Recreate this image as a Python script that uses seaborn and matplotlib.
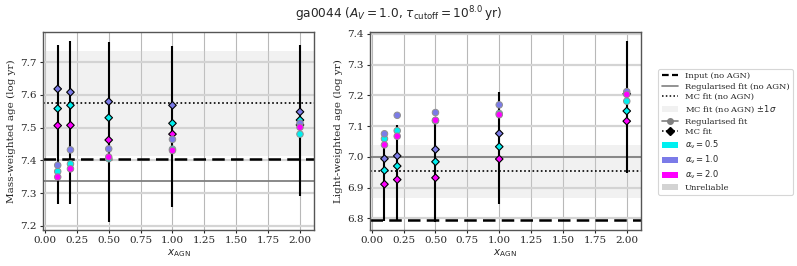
import numpy as np
import pandas as pd
import matplotlib
matplotlib.use("Agg")
import matplotlib.pyplot as plt
import seaborn as sns
from matplotlib.lines import Line2D
from matplotlib.patches import Patch

# ---------------- data ----------------
x_agn = [0.1, 0.2, 0.5, 1.0, 2.0]
alpha_nu = [0.5, 1.0, 2.0]
alpha_labels = [r"$\alpha_\nu = 0.5$", r"$\alpha_\nu = 1.0$", r"$\alpha_\nu = 2.0$"]

# Mass-weighted age (log yr)
mw_input = 7.403
mw_reg_noagn = 7.338
mw_mc_noagn = 7.574
mw_mc_noagn_sigma = 0.161
mw_reg_a05 = [7.366, 7.389, 7.405, 7.434, 7.480]
mw_reg_a10 = [7.385, 7.432, 7.435, 7.464, 7.513]
mw_reg_a20 = [7.349, 7.374, 7.410, 7.430, 7.501]
mw_mc_a05 = [7.558, 7.568, 7.530, 7.513, 7.523]
mw_mc_a10 = [7.618, 7.608, 7.579, 7.568, 7.548]
mw_mc_a20 = [7.506, 7.507, 7.462, 7.480, 7.508]
mw_err_lo = [7.268, 7.268, 7.213, 7.258, 7.292]
mw_err_hi = [7.752, 7.765, 7.760, 7.750, 7.752]

# Light-weighted age (log yr)
lw_input = 6.796
lw_reg_noagn = 6.999
lw_mc_noagn = 6.953
lw_mc_noagn_sigma = 0.087
lw_reg_a05 = [7.059, 7.085, 7.117, 7.141, 7.181]
lw_reg_a10 = [7.075, 7.135, 7.144, 7.169, 7.212]
lw_reg_a20 = [7.039, 7.067, 7.119, 7.137, 7.203]
lw_mc_a05 = [6.956, 6.970, 6.984, 7.033, 7.149]
lw_mc_a10 = [6.994, 7.003, 7.024, 7.076, 7.205]
lw_mc_a20 = [6.911, 6.926, 6.932, 6.993, 7.116]
lw_err_lo = [6.790, 6.792, 6.789, 6.847, 6.949]
lw_err_hi = [7.060, 7.102, 7.115, 7.211, 7.378]

colors = {0.5: "#00f0f0", 1.0: "#7b7be8", 2.0: "#ff00ff"}

# ---------------- style ----------------
sns.set_style("white")
plt.rcParams["font.family"] = ["DejaVu Serif"]
plt.rcParams["mathtext.fontset"] = "dejavusans"

fig = plt.figure(figsize=(7.97, 2.66), dpi=100)
ax1 = fig.add_axes([0.054, 0.135, 0.340, 0.745])
ax2 = fig.add_axes([0.464, 0.135, 0.340, 0.745])


def make_df(vals):
    rows = []
    for a, v in zip(alpha_nu, vals):
        for xx, yy in zip(x_agn, v):
            rows.append({"x": xx, "y": yy, "alpha": a})
    return pd.DataFrame(rows)


def panel(ax, inp, regn, mcn, sig, reg, mc, elo, ehi, ylim, yticks, ylabel):
    ax.set_xlim(-0.015, 2.11)
    ax.set_ylim(*ylim)
    ax.set_xticks(np.arange(0, 2.01, 0.25))
    ax.set_xticklabels([f"{t:.2f}" for t in np.arange(0, 2.01, 0.25)])
    ax.set_yticks(yticks)
    ax.set_yticklabels([f"{t:.1f}" for t in yticks])
    ax.xaxis.grid(True, color="#b8b8b8", lw=0.8, zorder=0)
    ax.yaxis.grid(True, color="#d4d4d4", lw=1.6, zorder=0)
    ax.set_axisbelow(True)
    ax.axhspan(mcn - sig, mcn + sig, color="#d3d3d3", alpha=0.3, lw=0, zorder=1)
    ax.axhline(inp, color="black", ls=(0, (5, 2.5)), lw=1.8, zorder=2)
    ax.axhline(regn, color="grey", ls="-", lw=1.3, zorder=2)
    ax.axhline(mcn, color="black", ls=(0, (1, 1.5)), lw=1.2, zorder=2)
    ymid = [(l + h) / 2 for l, h in zip(elo, ehi)]
    yerr = [[m - l for m, l in zip(ymid, elo)], [h - m for h, m in zip(ehi, ymid)]]
    ax.errorbar(x_agn, ymid, yerr=yerr, fmt="none", ecolor="black", elinewidth=1.5,
                capsize=0, zorder=3)
    dmc = make_df(mc)
    dreg = make_df(reg)
    sns.scatterplot(data=dmc, x="x", y="y", hue="alpha", palette=colors, marker="D",
                    s=15, edgecolor="black", linewidth=0.8, ax=ax, legend=False, zorder=4)
    sns.scatterplot(data=dreg, x="x", y="y", hue="alpha", palette=colors, marker="o",
                    s=22, edgecolor="#909090", linewidth=0.7, ax=ax, legend=False, zorder=5)
    ax.set_xlabel(r"$x_{\rm AGN}$", fontsize=7.5, labelpad=1)
    ax.set_ylabel(ylabel, fontsize=7.5, labelpad=3)
    ax.tick_params(labelsize=7.5, length=2.5, width=0.8, pad=2, left=True, bottom=True)
    for sp in ax.spines.values():
        sp.set_color("#555555")
        sp.set_linewidth(1.0)


panel(ax1, mw_input, mw_reg_noagn, mw_mc_noagn, mw_mc_noagn_sigma,
      [mw_reg_a05, mw_reg_a10, mw_reg_a20], [mw_mc_a05, mw_mc_a10, mw_mc_a20],
      mw_err_lo, mw_err_hi, (7.187, 7.792), [7.2, 7.3, 7.4, 7.5, 7.6, 7.7],
      "Mass-weighted age (log yr)")
panel(ax2, lw_input, lw_reg_noagn, lw_mc_noagn, lw_mc_noagn_sigma,
      [lw_reg_a05, lw_reg_a10, lw_reg_a20], [lw_mc_a05, lw_mc_a10, lw_mc_a20],
      lw_err_lo, lw_err_hi, (6.762, 7.406), [6.8, 6.9, 7.0, 7.1, 7.2, 7.3, 7.4],
      "Light-weighted age (log yr)")

fig.suptitle(r"ga0044 ($A_V = 1.0$, $\tau_{\rm cutoff} = 10^{8.0}\,$yr)",
             family="DejaVu Sans", fontsize=8.7, x=0.5, y=0.985)

handles = [
    Line2D([], [], color="black", ls=(0, (3, 1.5)), lw=1.6),
    Line2D([], [], color="grey", ls="-", lw=1.2),
    Line2D([], [], color="black", ls=(0, (1, 1.5)), lw=1.1),
    Patch(facecolor="#d3d3d3", alpha=0.3, lw=0),
    Line2D([], [], color="grey", ls="-", lw=1.2, marker="o", ms=4),
    Line2D([], [], color="black", ls=(0, (1, 1.5)), lw=1.1, marker="D", ms=4.5),
]
labels = ["Input (no AGN)", "Regularised fit (no AGN)", "MC fit (no AGN)",
          r"MC fit (no AGN) $\pm 1\sigma$", "Regularised fit", "MC fit"]
for a, lab in zip(alpha_nu, alpha_labels):
    handles.append(Patch(facecolor=colors[a], lw=0))
    labels.append(lab)
handles.append(Patch(facecolor="#d3d3d3", lw=0))
labels.append("Unreliable")

leg = fig.legend(handles, labels, loc="upper left", bbox_to_anchor=(0.826, 0.741),
                 fontsize=6, frameon=True, handlelength=2.0, handletextpad=0.8,
                 labelspacing=0.3, borderpad=0.4, borderaxespad=0)
leg.get_frame().set_edgecolor("#cccccc")
leg.get_frame().set_linewidth(0.8)

fig.savefig("out.png", dpi=100)
